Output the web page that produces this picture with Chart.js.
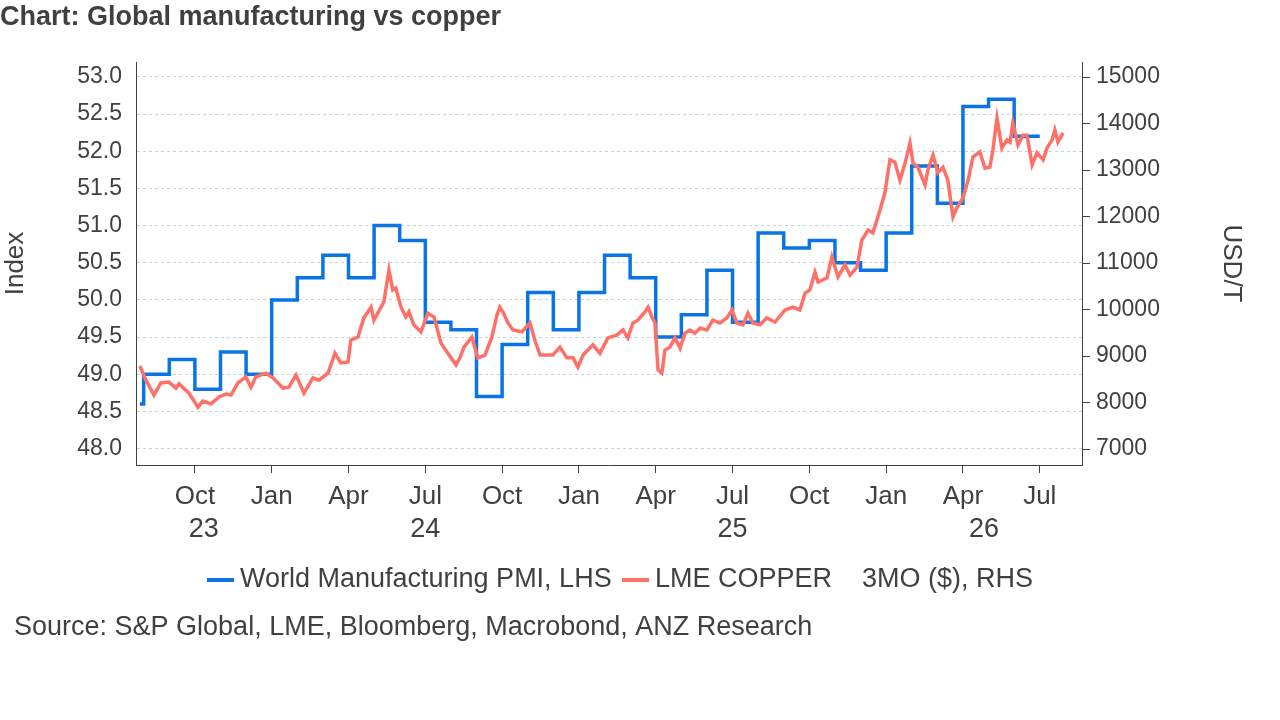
<!DOCTYPE html>
<html>
<head>
<meta charset="utf-8">
<script src="https://cdn.jsdelivr.net/npm/chart.js@4"></script>
<style>
  html, body { margin: 0; padding: 0; background: #fff; }
  #wrap { width: 1280px; height: 720px; position: relative; }
</style>
</head>
<body>
<div id="wrap"><canvas id="pmiCopperChart" width="1280" height="720"></canvas></div>
<script>
// x = months since Jan 2023 (Oct 23 = 9, Jan 24 = 12, ...)
const MONTHS = ['Jan', 'Feb', 'Mar', 'Apr', 'May', 'Jun', 'Jul', 'Aug', 'Sep', 'Oct', 'Nov', 'Dec'];
const FONT = 'Arial, "Liberation Sans", sans-serif';
const TEXT = '#404040';

// World Manufacturing PMI, monthly, from Aug 2023
const pmiStart = 7;
const pmiValues = [
  49.0, 49.2, 48.8, 49.3, 49.0,
  50.0, 50.3, 50.6, 50.3, 51.0, 50.8, 49.7, 49.6, 48.7, 49.4, 50.1, 49.6,
  50.1, 50.6, 50.3, 49.5, 49.8, 50.4, 49.7, 50.9, 50.7, 50.8, 50.5, 50.4,
  50.9, 51.8, 51.3, 52.6, 52.7, 52.2
];
const pmiData = [{ x: 6.85, y: 48.6 }];
pmiValues.forEach((v, i) => pmiData.push({ x: pmiStart + i, y: v }));
pmiData.push({ x: pmiStart + pmiValues.length, y: pmiValues[pmiValues.length - 1] });

// LME copper 3MO, USD/t
const copper = [
  [6.85, 8785], [7.09, 8480], [7.40, 8160], [7.67, 8420], [7.98, 8440], [8.26, 8310],
  [8.38, 8400], [8.77, 8200], [9.12, 7900], [9.31, 8030], [9.63, 7970], [9.94, 8120],
  [10.21, 8180], [10.41, 8160], [10.68, 8420], [10.99, 8550], [11.19, 8330], [11.38, 8550],
  [11.77, 8630], [12.05, 8530], [12.44, 8310], [12.67, 8330], [12.95, 8590], [13.26, 8200],
  [13.61, 8530], [13.84, 8480], [14.20, 8630], [14.47, 9060], [14.70, 8850], [14.98, 8870],
  [15.09, 9340], [15.37, 9410], [15.60, 9820], [15.88, 10050], [15.99, 9770], [16.27, 10050],
  [16.38, 10160], [16.58, 10850], [16.73, 10420], [16.85, 10460], [17.05, 10050], [17.24, 9840],
  [17.36, 9950], [17.55, 9670], [17.83, 9520], [18.10, 9920], [18.34, 9840], [18.61, 9280],
  [18.88, 9060], [19.20, 8810], [19.35, 8960], [19.51, 9190], [19.82, 9410], [20.05, 8960],
  [20.33, 9020], [20.60, 9410], [20.80, 9880], [20.91, 10050], [21.03, 9950], [21.23, 9710],
  [21.42, 9560], [21.77, 9520], [22.09, 9710], [22.28, 9340], [22.48, 9020], [22.75, 9020],
  [22.98, 9020], [23.26, 9190], [23.53, 8960], [23.77, 8960], [23.96, 8760], [24.16, 9020],
  [24.55, 9240], [24.82, 9060], [25.13, 9390], [25.48, 9450], [25.72, 9560], [25.91, 9390],
  [26.11, 9710], [26.30, 9770], [26.58, 9950], [26.70, 10050], [26.85, 9840], [26.97, 9710],
  [27.09, 8700], [27.24, 8630], [27.36, 9130], [27.55, 9190], [27.75, 9390], [27.95, 9170],
  [28.14, 9490], [28.34, 9560], [28.53, 9490], [28.73, 9600], [29.00, 9560], [29.23, 9770],
  [29.51, 9710], [29.78, 9820], [29.98, 9990], [30.17, 9710], [30.41, 9670], [30.60, 9920],
  [30.80, 9710], [31.07, 9670], [31.34, 9820], [31.66, 9730], [32.05, 9990], [32.36, 10050],
  [32.63, 9990], [32.83, 10350], [33.02, 10420], [33.22, 10800], [33.34, 10590], [33.69, 10680],
  [33.88, 11130], [34.12, 10700], [34.39, 10960], [34.59, 10740], [34.86, 10910], [35.05, 11490],
  [35.29, 11710], [35.48, 11650], [35.76, 12140], [35.95, 12510], [36.15, 13220], [36.34, 13170],
  [36.54, 12780], [36.74, 13150], [36.93, 13580], [37.05, 13150], [37.24, 13060], [37.52, 12680],
  [37.63, 13000], [37.83, 13320], [38.02, 12940], [38.22, 13060], [38.41, 12780], [38.61, 11990],
  [38.77, 12200], [39.00, 12400], [39.20, 12780], [39.39, 13280], [39.66, 13390], [39.86, 13040],
  [40.05, 13060], [40.17, 13430], [40.33, 14120], [40.52, 13470], [40.72, 13650], [40.84, 13600],
  [40.95, 14010], [41.15, 13540], [41.34, 13750], [41.50, 13750], [41.70, 13110], [41.89, 13370],
  [42.13, 13220], [42.28, 13470], [42.48, 13650], [42.59, 13860], [42.71, 13600], [42.91, 13800]
].map(([x, y]) => ({ x, y }));

const BLUE = '#0a74e6';
const RED = '#ff7168';

const decorations = {
  id: 'decorations',
  afterDraw(chart) {
    const ctx = chart.ctx;
    const xs = chart.scales.x;
    ctx.save();
    ctx.fillStyle = TEXT;
    ctx.textBaseline = 'middle';

    // title
    ctx.font = 'bold 27px ' + FONT;
    ctx.textAlign = 'left';
    ctx.fillText('Chart: Global manufacturing vs copper', 0, 18);

    // year labels under month ticks
    ctx.font = '27px ' + FONT;
    ctx.textAlign = 'center';
    [['23', (xs.min + 12) / 2], ['24', 18], ['25', 30], ['26', (36 + xs.max) / 2]].forEach(([t, m]) => {
      ctx.fillText(t, xs.getPixelForValue(m), 530);
    });

    // legend
    ctx.textAlign = 'left';
    ctx.lineWidth = 4;
    ctx.strokeStyle = BLUE;
    ctx.beginPath(); ctx.moveTo(207, 580); ctx.lineTo(234, 580); ctx.stroke();
    ctx.fillText('World Manufacturing PMI, LHS', 240, 580);
    ctx.strokeStyle = RED;
    ctx.beginPath(); ctx.moveTo(622, 580); ctx.lineTo(649, 580); ctx.stroke();
    ctx.fillText('LME COPPER    3MO ($), RHS', 655, 580);

    // source
    ctx.fillText('Source: S&P Global, LME, Bloomberg, Macrobond, ANZ Research', 14, 628);
    ctx.restore();
  }
};

new Chart(document.getElementById('pmiCopperChart'), {
  type: 'line',
  data: {
    datasets: [
      {
        label: 'LME COPPER 3MO ($), RHS',
        data: copper,
        yAxisID: 'y1',
        borderColor: RED,
        borderWidth: 3.5,
        pointRadius: 0,
        tension: 0
      },
      {
        label: 'World Manufacturing PMI, LHS',
        data: pmiData,
        yAxisID: 'y',
        stepped: 'before',
        borderColor: BLUE,
        borderWidth: 3.5,
        pointRadius: 0
      }
    ]
  },
  options: {
    responsive: false,
    animation: false,
    layout: { padding: { top: 62, left: 0, right: 33, bottom: 0 } },
    plugins: { legend: { display: false }, tooltip: { enabled: false } },
    scales: {
      x: {
        type: 'linear',
        min: 6.7,
        max: 43.65,
        afterBuildTicks: s => { s.ticks = []; for (let m = 9; m <= 42; m += 3) s.ticks.push({ value: m }); },
        afterFit: s => { s.height = 255; },
        ticks: {
          color: TEXT, font: { size: 26, family: FONT }, padding: 8, maxRotation: 0, autoSkip: false,
          callback: v => MONTHS[((v % 12) + 12) % 12]
        },
        grid: { display: true, drawOnChartArea: false, tickLength: 8, color: TEXT },
        border: { color: TEXT, width: 1 }
      },
      y: {
        position: 'left',
        min: 47.78,
        max: 53.2,
        afterBuildTicks: s => { s.ticks = []; for (let v = 48; v <= 53.001; v += 0.5) s.ticks.push({ value: +v.toFixed(1) }); },
        afterFit: s => { s.width = 136; },
        title: { display: true, text: 'Index', color: TEXT, font: { size: 26, family: FONT }, padding: 0 },
        ticks: { color: TEXT, font: { size: 23, family: FONT }, padding: 14, callback: v => v.toFixed(1) },
        grid: { color: '#c5d2d6', drawTicks: false, tickBorderDash: [3, 3] },
        border: { color: TEXT, dash: [3, 3], width: 1 }
      },
      y1: {
        position: 'right',
        min: 6656,
        max: 15323,
        afterBuildTicks: s => { s.ticks = []; for (let v = 7000; v <= 15000; v += 1000) s.ticks.push({ value: v }); },
        afterFit: s => { s.width = 165; },
        title: { display: true, text: 'USD/T', color: TEXT, font: { size: 26, family: FONT }, padding: 0 },
        ticks: { color: TEXT, font: { size: 23, family: FONT }, padding: 6, callback: v => String(v) },
        grid: { drawOnChartArea: false, tickLength: 8, color: TEXT },
        border: { color: TEXT, width: 1 }
      }
    }
  },
  plugins: [decorations]
});
</script>
</body>
</html>
